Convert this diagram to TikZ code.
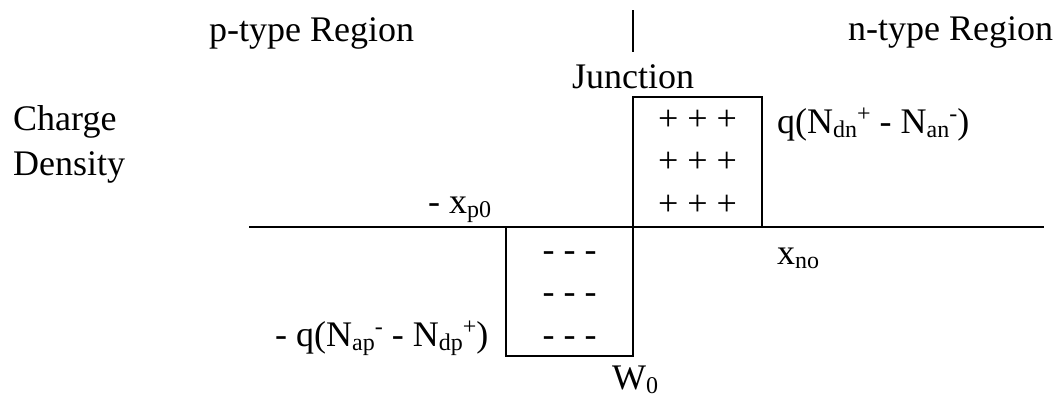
\documentclass[tikz,border=0pt]{standalone}
\usepackage{fontspec}
\setmainfont{Liberation Serif}
\newcommand\sbx[1]{\raisebox{-0.13em}{\fontsize{24}{24}\selectfont #1}}
\newcommand\spx[1]{\raisebox{0.33em}{\fontsize{24}{24}\selectfont #1}}
\begin{document}
\begin{tikzpicture}[x=1pt,y=-1pt,
  lbl/.style={anchor=base west, inner sep=0pt, font=\fontsize{36}{45}\selectfont},
  lblc/.style={anchor=base, inner sep=0pt, font=\fontsize{36}{45}\selectfont},
  ln/.style={line width=2pt}]
\useasboundingbox (0,0) rectangle (1064,399);
% junction marker
\coordinate (jt) at (633,10);
\coordinate (jb) at (633,52);
\draw[ln] (jt) -- (jb);
% axis
\coordinate (axL) at (249,227);
\coordinate (axR) at (1044,227);
\draw[ln] (axL) -- (axR);
% positive box
\coordinate (o) at (633,227);
\coordinate (pTL) at (633,97);
\coordinate (pTR) at (762,97);
\coordinate (pBR) at (762,227);
\draw[ln] (o) -- (pTL) -- (pTR) -- (pBR);
% negative box
\coordinate (nTL) at (506,227);
\coordinate (nBL) at (506,356);
\coordinate (nBR) at (633,356);
\draw[ln] (nTL) -- (nBL) -- (nBR) -- (o);
% labels
\node[lbl] (ptype) at (209,41) {p-type Region};
\node[lbl] (ntype) at (848,40) {n-type Region};
\node[lblc] (junc) at (633,88) {Junction};
\node[lbl, align=left] (cd) at (13,175) {Charge\\Density};
\node[lbl] (qpos) at (777,133) {q(N\sbx{dn}\spx{+} - N\sbx{an}\spx{-})};
\node[lbl] (qneg) at (275,346) {- q(N\sbx{ap}\spx{-} - N\sbx{dp}\spx{+})};
\node[lbl] (xp) at (428,213) {- x\sbx{p0}};
\node[lbl] (xn) at (777,264) {x\sbx{no}};
\node[lbl] (w0) at (612,389) {W\sbx{0}};
% charges
\node[lblc] (p1) at (697.5,130) {+ + +};
\node[lblc] (p2) at (697.5,172) {+ + +};
\node[lblc] (p3) at (697.5,215) {+ + +};
\node[lblc] (m1) at (569.5,261) {- - -};
\node[lblc] (m2) at (569.5,303) {- - -};
\node[lblc] (m3) at (569.5,346) {- - -};
\end{tikzpicture}
\end{document}
